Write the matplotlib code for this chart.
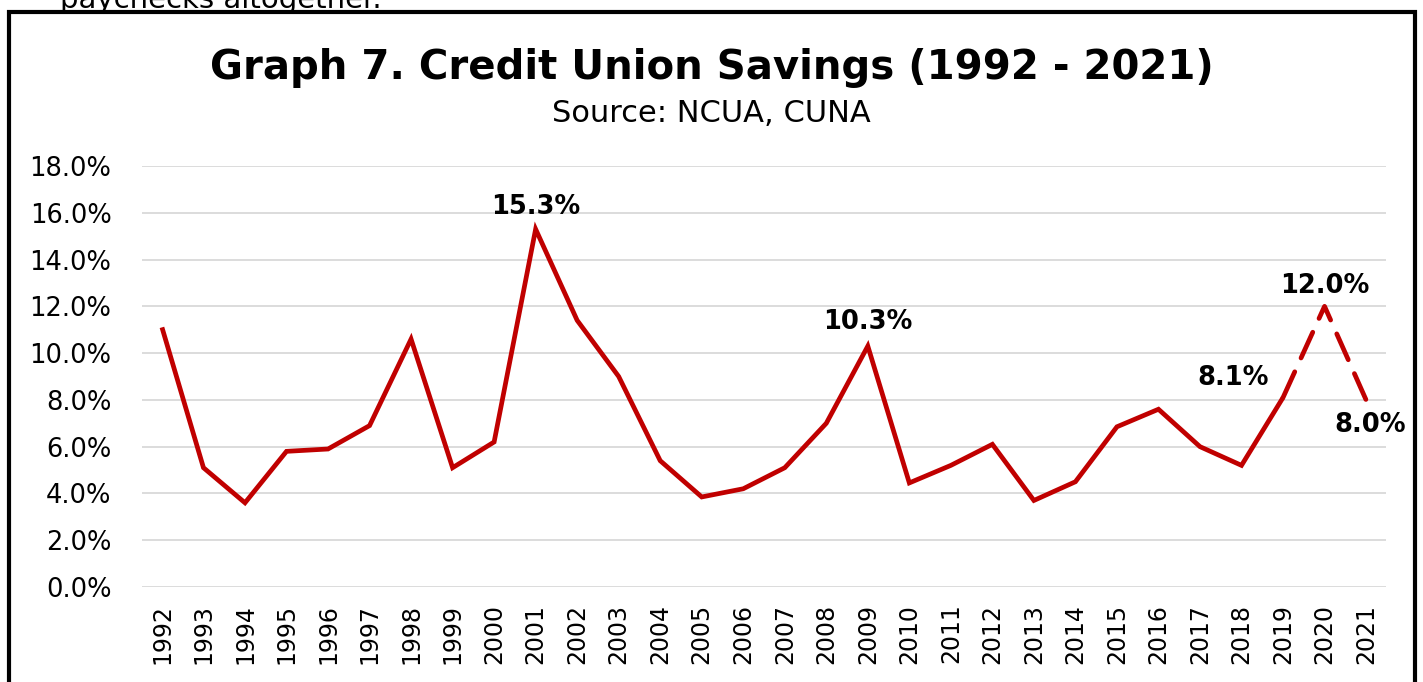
import matplotlib
matplotlib.use("Agg")
import matplotlib.pyplot as plt
from matplotlib.patches import Rectangle

years = [str(y) for y in range(1992, 2022)]
savings = [11.1, 5.1, 3.6, 5.8, 5.9, 6.9, 10.6, 5.1, 6.2, 15.3,
           11.4, 9.0, 5.4, 3.85, 4.2, 5.1, 7.0, 10.3, 4.45, 5.2,
           6.1, 3.7, 4.5, 6.85, 7.6, 6.0, 5.2, 8.1, 12.0, 8.0]
n_actual = 28  # last solid point is 2019 (index 27), dashed after
labels = {"2001": "15.3%", "2009": "10.3%", "2019": "8.1%", "2020": "12.0%", "2021": "8.0%"}
yticks = [0, 2, 4, 6, 8, 10, 12, 14, 16, 18]

plt.rcParams["font.family"] = ["DejaVu Sans"]
red = "#C00000"

fig = plt.figure(figsize=(14.23, 6.82), dpi=100)
ax = fig.add_axes([0.0998, 0.1393, 0.8742, 0.6173])

x = list(range(len(years)))
ax.plot(x[:n_actual], savings[:n_actual], color=red, lw=3.4,
        solid_joinstyle="miter", solid_capstyle="butt", zorder=3)
ax.plot(x[n_actual - 1:], savings[n_actual - 1:], color=red, lw=3.4,
        dashes=(6, 3.2), dash_capstyle="round", zorder=3)

offsets = {"2001": (0, 22, "center"), "2009": (0, 24, "center"),
           "2019": (-50, 20, "center"), "2020": (0, 20, "center"),
           "2021": (4, -25, "center")}
for yr, txt in labels.items():
    i = years.index(yr)
    dx, dy, ha = offsets[yr]
    ax.annotate(txt, (i, savings[i]), xytext=(dx, dy), textcoords="offset pixels",
                ha=ha, va="center", fontsize=18.5, fontweight="bold", color="black")

ax.set_xlim(-0.48, len(years) - 0.52)
ax.set_ylim(0, 18)
ax.set_yticks(yticks)
ax.set_yticklabels([f"{v:.1f}%" for v in yticks], fontsize=18.5)
ax.set_xticks(x)
ax.set_xticklabels(years, rotation=90, fontsize=17)
ax.tick_params(length=0, pad=12)
ax.tick_params(axis="y", pad=22)
ax.grid(axis="y", color="#d9d9d9", lw=1.3)
ax.set_axisbelow(True)
for s in ax.spines.values():
    s.set_visible(False)

fig.text(0.5, 0.90, "Graph 7. Credit Union Savings (1992 - 2021)", ha="center", va="center",
         fontsize=29, fontweight="bold")
fig.text(0.5, 0.834, "Source: NCUA, CUNA", ha="center", va="center", fontsize=22)
fig.text(0.042, 1.0, "paychecks altogether.", ha="left", va="center", fontsize=21)

fig.patches.append(Rectangle((9 / 1423, -0.05), 1406 / 1423, 1.032, transform=fig.transFigure,
                             fill=False, edgecolor="black", lw=3, zorder=10))

fig.savefig("out.png", dpi=100, facecolor="white")
